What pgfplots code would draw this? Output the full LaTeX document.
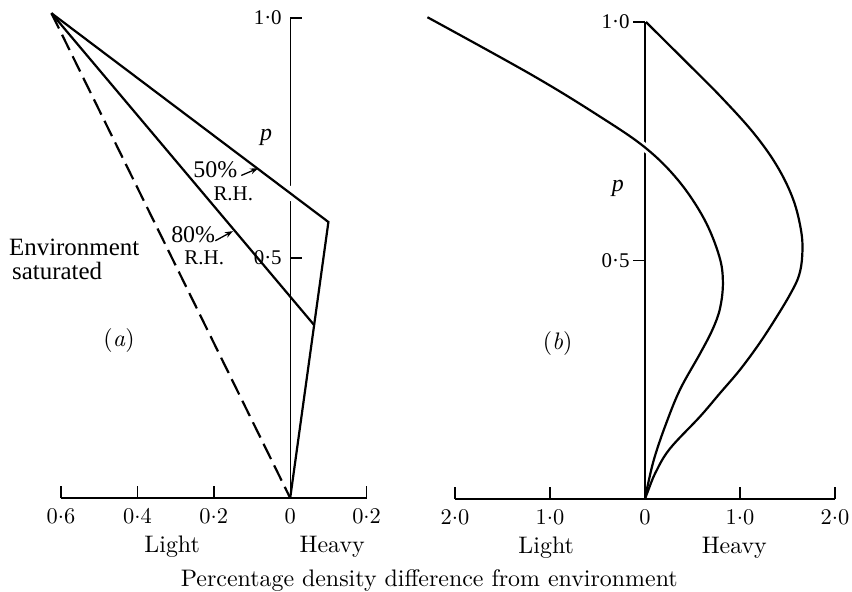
\documentclass[border=0pt]{standalone}
\usepackage{fontspec}
\setmainfont{lmroman10-regular.otf}[ItalicFont=lmroman10-italic.otf, BoldFont=lmroman10-bold.otf]
\usepackage{pgfplots}
\pgfplotsset{compat=1.18}
\usetikzlibrary{arrows.meta}
\newfontfamily\tms{Liberation Serif}
\newcommand{\md}{\raisebox{0.55ex}{.}}
\begin{document}
\begin{tikzpicture}
\useasboundingbox (0bp,0bp) rectangle (852bp,-592bp);
\pgfplotsset{
  panel/.style={
    axis x line=bottom, axis y line=middle,
    hide obscured x ticks=false, hide obscured y ticks=false,
    axis line style={-, line width=1.4bp},
    clip=false, minor tick num=0,
    tick align=center, major tick length=12bp,
    xtick style={yshift=6bp, line width=1.4bp, black},
    xticklabel style={font=\fontsize{22.5}{26}\selectfont, yshift=-1bp},
    yticklabel style={font=\tms\fontsize{21}{24}\selectfont, xshift=1bp},
  },
  curve/.style={line width=2.2bp, black},
}
% ---------------- panel (a) ----------------
\begin{axis}[panel,
  at={(61bp,-498bp)}, anchor=south west,
  x=382bp, y=480bp,
  xmin=-0.6, xmax=0.2, ymin=0, ymax=1,
  xtick={-0.6,-0.4,-0.2,0,0.2}, xticklabels={0\md6,0\md4,0\md2,0,0\md2},
  ytick={0.5,1}, yticklabels={0·5,1·0},
  ytick style={xshift=6bp, line width=1.4bp, black},
]
\addplot[white, line width=12bp] coordinates {(-0.08,0.683) (0.06,0.599)};
\addplot[curve] coordinates {(-0.625,1.01) (0.10,0.575) (0,0)};
\addplot[curve] coordinates {(-0.625,1.01) (0.063,0.36)};
\addplot[curve, dash pattern=on 17bp off 7bp] coordinates {(-0.625,1.01) (0,0)};
\node[font=\tms\itshape\fontsize{24}{26}\selectfont] at (axis cs:-0.063,0.752) {p};
\node[font=\tms\fontsize{24}{26}\selectfont] at (axis cs:-0.196,0.683) {50\%};
\node[font=\tms\fontsize{21}{22}\selectfont] at (axis cs:-0.149,0.633) {R.H.};
\draw[-{Stealth[length=8bp,width=6bp]}, line width=1.3bp] (axis cs:-0.128,0.672) -- (axis cs:-0.084,0.687);
\node[font=\tms\fontsize{24}{26}\selectfont] at (axis cs:-0.254,0.548) {80\%};
\node[font=\tms\fontsize{21}{22}\selectfont] at (axis cs:-0.225,0.500) {R.H.};
\draw[-{Stealth[length=8bp,width=6bp]}, line width=1.3bp] (axis cs:-0.196,0.536) -- (axis cs:-0.150,0.556);
\node[font=\tms\fontsize{25}{25}\selectfont, anchor=west, align=left] at (axis cs:-0.745,0.497) {Environment\\[-1bp]\hspace*{3bp}saturated};
\node[font=\fontsize{24}{26}\selectfont] at (axis cs:-0.448,0.329) {(\textit{a})};
\node[font=\fontsize{24}{26}\selectfont] at (axis cs:-0.309,-0.102) {Light};
\node[font=\fontsize{24}{26}\selectfont] at (axis cs:0.110,-0.102) {Heavy};
\node[font=\fontsize{24}{26}\selectfont] at (axis cs:0.364,-0.171) {Percentage density difference from environment};
\end{axis}
% ---------------- panel (b) ----------------
\begin{axis}[panel,
  at={(455bp,-499bp)}, anchor=south west,
  x=95bp, y=477bp,
  xmin=-2, xmax=2, ymin=0, ymax=1,
  xtick={-2,-1,0,1,2}, xticklabels={2\md0,1\md0,0,1\md0,2\md0},
  ytick={0.5,1}, yticklabels={0·5,1·0},
  ytick style={xshift=-6bp, line width=1.4bp, black},
  yticklabel style={xshift=-7bp},
]
\addplot[white, line width=8bp, smooth] coordinates {(-0.3,0.78) (0,0.737) (0.3,0.68)};
\addplot[curve, smooth, tension=0.6] coordinates {
 (-2.29,1.01) (-1.2,0.89) (-0.5,0.805) (0,0.737) (0.35,0.668)
 (0.62,0.588) (0.78,0.51) (0.82,0.455) (0.79,0.40) (0.71,0.355)
 (0.58,0.305) (0.37,0.23) (0.22,0.157) (0.10,0.087) (0.03,0.03) (0,0)};
\addplot[curve, smooth, tension=0.6] coordinates {
 (0.01,1.0) (0.44,0.915) (0.79,0.845) (1.14,0.768) (1.39,0.698)
 (1.56,0.628) (1.645,0.56) (1.655,0.51) (1.62,0.468) (1.53,0.43)
 (1.38,0.38) (1.2,0.325) (1.0,0.271) (0.79,0.222) (0.58,0.173)
 (0.26,0.105) (0.11,0.055) (0.03,0.016) (0,0)};
\node[font=\tms\itshape\fontsize{24}{26}\selectfont] at (axis cs:-0.287,0.651) {p};
\node[font=\fontsize{24}{26}\selectfont] at (axis cs:-0.92,0.325) {(\textit{b})};
\node[font=\fontsize{24}{26}\selectfont] at (axis cs:-1.04,-0.103) {Light};
\node[font=\fontsize{24}{26}\selectfont] at (axis cs:0.94,-0.103) {Heavy};
\end{axis}
\end{tikzpicture}
\end{document}
